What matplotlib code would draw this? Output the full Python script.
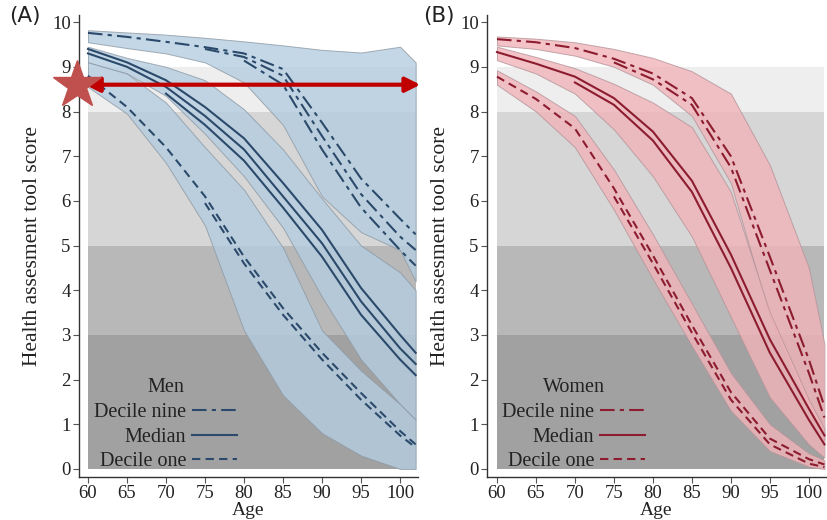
import matplotlib
matplotlib.use("Agg")
import matplotlib.pyplot as plt
from matplotlib.lines import Line2D
import numpy as np

nan = np.nan

ages = [60, 65, 70, 75, 80, 85, 90, 95, 100, 102]

# grey reference bands of the score
band_lo = [0, 3, 5, 8]
band_hi = [3, 5, 8, 9]
band_col = ['#a1a1a1', '#b8b8b8', '#d6d6d6', '#eeeeee']

# ---- men ----
men_d9_hi = [9.82, 9.77, 9.72, 9.65, 9.57, 9.48, 9.38, 9.32, 9.45, 9.10]
men_d9_lo = [9.55, 9.42, 9.30, 9.10, 8.65, 7.70, 6.10, 5.30, 4.90, 4.20]
men_md_hi = [9.45, 9.20, 9.00, 8.70, 8.05, 7.15, 6.05, 5.00, 4.40, 4.00]
men_md_lo = [9.10, 8.85, 8.35, 7.50, 6.55, 5.40, 3.85, 2.45, 1.45, 1.10]
men_d1_hi = [9.10, 8.85, 8.20, 7.20, 6.25, 4.95, 3.10, 2.20, 1.45, 1.10]
men_d1_lo = [8.55, 7.95, 6.85, 5.45, 3.10, 1.65, 0.80, 0.30, 0.00, 0.00]

men_d9 = [
    [9.76, 9.67, 9.56, 9.44, 9.30, 8.95, 7.75, 6.50, 5.60, 5.25],
    [nan, nan, nan, 9.40, 9.22, 8.80, 7.45, 6.15, 5.20, 4.90],
    [nan, nan, nan, nan, 9.14, 8.60, 7.15, 5.85, 4.90, 4.55],
]
men_md = [
    [9.40, 9.10, 8.70, 8.10, 7.40, 6.40, 5.35, 4.05, 3.00, 2.60],
    [9.30, 9.00, 8.55, 7.90, 7.15, 6.10, 5.05, 3.75, 2.70, 2.35],
    [nan, nan, 8.40, 7.70, 6.90, 5.85, 4.75, 3.45, 2.45, 2.10],
]
men_d1 = [
    [8.80, 8.10, 7.20, 6.10, 4.75, 3.60, 2.60, 1.70, 0.85, 0.55],
    [nan, nan, nan, 5.95, 4.60, 3.45, 2.45, 1.55, 0.75, 0.48],
]

# ---- women ----
wom_d9_hi = [9.68, 9.63, 9.55, 9.40, 9.20, 8.90, 8.40, 6.80, 4.50, 2.80]
wom_d9_lo = [9.48, 9.40, 9.25, 9.00, 8.60, 7.90, 6.40, 3.40, 1.35, 0.65]
wom_md_hi = [9.45, 9.22, 8.97, 8.62, 8.20, 7.65, 6.20, 3.50, 1.55, 0.90]
wom_md_lo = [9.15, 8.85, 8.40, 7.60, 6.55, 5.20, 3.40, 1.60, 0.55, 0.25]
wom_d1_hi = [8.92, 8.45, 7.90, 6.70, 5.25, 3.70, 2.15, 1.00, 0.35, 0.20]
wom_d1_lo = [8.60, 8.00, 7.20, 5.80, 4.25, 2.75, 1.30, 0.40, 0.05, 0.00]

wom_d9 = [
    [9.62, 9.55, 9.42, 9.18, 8.85, 8.30, 7.00, 4.75, 2.45, 1.40],
    [nan, nan, nan, 9.10, 8.72, 8.15, 6.75, 4.45, 2.15, 1.15],
]
wom_md = [
    [9.33, 9.07, 8.78, 8.30, 7.55, 6.45, 4.80, 2.90, 1.35, 0.75],
    [nan, nan, 8.65, 8.15, 7.35, 6.20, 4.50, 2.60, 1.10, 0.55],
]
wom_d1 = [
    [8.78, 8.28, 7.62, 6.28, 4.78, 3.22, 1.72, 0.68, 0.22, 0.10],
    [nan, nan, nan, 6.10, 4.60, 3.05, 1.55, 0.55, 0.12, 0.04],
]

xticks = [60, 65, 70, 75, 80, 85, 90, 95, 100]
yticks = list(range(0, 11))

serif = 'Liberation Serif'
d9_dash = (0, (7, 2.5, 2, 2.5))
d1_dash = (0, (4, 2.5))

fig = plt.figure(figsize=(8.27, 5.2), dpi=100)
axA = fig.add_axes([79 / 827, 43 / 520, 339 / 827, 462 / 520])
axB = fig.add_axes([487 / 827, 43 / 520, 339 / 827, 462 / 520])


def panel(ax, bands, lines, fill, edge, lcol, title, xlim):
    for lo, hi, c in zip(band_lo, band_hi, band_col):
        ax.fill_between([ages[0], ages[-1]], lo, hi, color=c, lw=0, zorder=0)
    for lo, hi in bands:
        ax.fill_between(ages, lo, hi, facecolor=fill, alpha=0.8,
                        edgecolor=edge, lw=0.7, zorder=1)
    styles = [d9_dash, '-', d1_dash]
    for group, ls in zip(lines, styles):
        for y in group:
            ax.plot(ages, y, color=lcol, lw=1.5, ls=ls, zorder=3)
    ax.set_xlim(*xlim)
    ax.set_ylim(-0.18, 10.16)
    ax.set_xticks(xticks)
    ax.set_yticks(yticks)
    for s in ['top', 'right']:
        ax.spines[s].set_visible(False)
    for s in ['left', 'bottom']:
        ax.spines[s].set_color('#333333')
        ax.spines[s].set_linewidth(1.0)
    ax.tick_params(length=4, width=0.8, color='#555555', pad=2,
                   labelsize=13.5, labelcolor='#222222')
    for lab in ax.get_xticklabels() + ax.get_yticklabels():
        lab.set_fontfamily(serif)
    ax.set_xlabel('Age', family=serif, fontsize=14, labelpad=0, color='#222222')
    ax.set_ylabel('Health assesment tool score', family=serif, fontsize=15.5,
                  labelpad=7, color='#222222')
    handles = [Line2D([], [], color=lcol, lw=1.5, ls=d9_dash),
               Line2D([], [], color=lcol, lw=1.5, ls='-'),
               Line2D([], [], color=lcol, lw=1.5, ls=d1_dash)]
    leg = ax.legend(handles, ['Decile nine', 'Median', 'Decile one'],
                    title=title, loc='lower left', bbox_to_anchor=(0.045, 0.012),
                    frameon=False, markerfirst=False, handlelength=2.2,
                    handletextpad=0.3, labelspacing=0.28, borderpad=0,
                    borderaxespad=0,
                    prop={'family': serif, 'size': 14.5})
    leg.get_title().set_fontfamily(serif)
    leg.get_title().set_fontsize(14.5)
    for t in leg.get_texts() + [leg.get_title()]:
        t.set_color('#222222')


panel(axA,
      [(men_d9_lo, men_d9_hi), (men_md_lo, men_md_hi), (men_d1_lo, men_d1_hi)],
      [men_d9, men_md, men_d1],
      '#b5cde0', '#8d9aa5', '#2b4a6b', 'Men', (58.85, 102.3))
panel(axB,
      [(wom_d9_lo, wom_d9_hi), (wom_md_lo, wom_md_hi), (wom_d1_lo, wom_d1_hi)],
      [wom_d9, wom_md, wom_d1],
      '#f0b4ba', '#b59499', '#8c1c2e', 'Women', (58.72, 102.2))

fig.text(9 / 827, 1 - 16 / 520, '(A)', fontsize=15.5, va='center', color='#222222')
fig.text(423 / 827, 1 - 16 / 520, '(B)', fontsize=15.5, va='center', color='#222222')

# red arrow and star marking score 8.6 in panel A
arrow_y = 8.6
axA.annotate('', xy=(102.6, arrow_y), xytext=(59.6, arrow_y),
             arrowprops=dict(arrowstyle='<|-|>', color='#c00000', lw=3,
                             mutation_scale=22, shrinkA=0, shrinkB=0),
             annotation_clip=False, zorder=5)
axA.plot([58.6], [arrow_y], marker='*', ms=36, color='#c0504d',
         mec='#c0504d', clip_on=False, zorder=6)

fig.savefig('out.png', dpi=100)
